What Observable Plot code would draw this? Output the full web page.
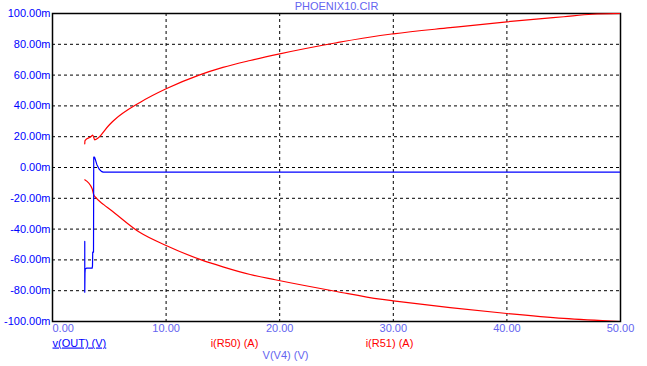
<!DOCTYPE html>
<html>
<head>
<meta charset="utf-8">
<script src="https://cdn.jsdelivr.net/npm/d3@7"></script>
<script src="https://cdn.jsdelivr.net/npm/@observablehq/plot@0.6"></script>
<style>
  html, body { margin: 0; padding: 0; background: #ffffff; }
</style>
</head>
<body>
<div id="chart"></div>
<script>
// ---- data (values in milli-units) ----
const chartTitle = "PHOENIX10.CIR";
const xTicks = [0, 10, 20, 30, 40, 50];
const yTicks = [-100, -80, -60, -40, -20, 0, 20, 40, 60, 80, 100];
const xGrid = [10, 20, 30, 40];
const yGrid = [-80, -60, -40, -20, 0, 20, 40, 60, 80];

// v(OUT) (V)
const vOutX = [2.84, 2.84, 2.86, 2.88, 2.99, 3.49, 3.52, 3.54, 3.61, 3.63, 3.70, 3.78, 3.90, 4.10, 4.30, 4.46, 50];
const vOutY = [-48, -81, -68.6, -66, -65.4, -65.4, -64, -55, -55, 6.7, 6.7, 5, 2, -1, -2.5, -3.0, -3.0];

// i(R50) (A)  (upper red)
const iR50X = [2.84, 2.86, 3.40, 3.54, 3.72, 4.95, 5.39, 7.74, 10, 12.9, 15, 17.4, 20, 25, 28.85, 30, 35, 40, 45, 47.5, 50];
const iR50Y = [15.4, 17.5, 20.1, 21.0, 18.0, 27.3, 30.5, 42.4, 51.1, 60, 65, 69.5, 73.8, 81, 85.7, 86.8, 90.8, 94.6, 97.9, 99.5, 100];

// i(R51) (A)  (lower red)
const iR51X = [2.84, 3.49, 3.63, 3.78, 4.51, 5.1, 7.74, 10, 13.1, 15, 17.4, 19.6, 25, 28.85, 30, 35, 40, 45, 50];
const iR51Y = [-8.0, -13.8, -17.7, -19.3, -24.1, -27.4, -42.4, -50.6, -60, -64.5, -69.5, -72.9, -80.5, -85.5, -86.6, -91, -94.8, -98, -100];

const legendLabels = ["v(OUT) (V)", "i(R50) (A)", "i(R51) (A)"];
const xAxisLabel = "V(V4) (V)";

// ---- build tables ----
const vOut = vOutX.map((x, i) => ({x, y: vOutY[i]}));
const iR50 = iR50X.map((x, i) => ({x, y: iR50Y[i]}));
const iR51 = iR51X.map((x, i) => ({x, y: iR51Y[i]}));

const lightBlue = "#6464f0";
const blue = "#0000ff";
const red = "#ff0000";

const chart = Plot.plot({
  width: 647,
  height: 366,
  marginLeft: 52,
  marginRight: 27,
  marginTop: 13,
  marginBottom: 45,
  style: {background: "#ffffff", fontFamily: "'Liberation Sans', Arial, sans-serif", fontSize: "11px"},
  x: {domain: [0, 50], axis: null},
  y: {domain: [-100, 100], axis: null},
  marks: [
    Plot.ruleX(xGrid, {stroke: "#000", strokeDasharray: "3,3", strokeWidth: 1}),
    Plot.ruleY(yGrid, {stroke: "#000", strokeDasharray: "3,3", strokeWidth: 1}),
    Plot.frame({stroke: "#000", strokeWidth: 1.5}),
    Plot.line(iR50, {x: "x", y: "y", stroke: red, strokeWidth: 1.2, curve: "monotone-x", clip: true}),
    Plot.line(iR51, {x: "x", y: "y", stroke: red, strokeWidth: 1.2, curve: "monotone-x", clip: true}),
    Plot.line(vOut, {x: "x", y: "y", stroke: blue, strokeWidth: 1.2, clip: true}),
    // y tick labels
    Plot.text(yTicks, {y: d => d, text: d => d.toFixed(2) + "m", frameAnchor: "left", dx: -2, textAnchor: "end", fill: blue}),
    // x tick labels
    Plot.text(xTicks.filter(d => d === 0), {x: d => d, text: d => d.toFixed(2), frameAnchor: "bottom", dy: 7, lineAnchor: "middle", textAnchor: "start", fill: lightBlue}),
    Plot.text(xTicks.filter(d => d !== 0), {x: d => d, text: d => d.toFixed(2), frameAnchor: "bottom", dy: 7, lineAnchor: "middle", textAnchor: "middle", fill: lightBlue}),
    // title
    Plot.text([chartTitle], {frameAnchor: "top", dy: -7, lineAnchor: "middle", fill: lightBlue}),
    // legend
    Plot.text([legendLabels[0]], {frameAnchor: "bottom-left", dx: 0, dy: 21.5, lineAnchor: "middle", textAnchor: "start", fill: blue}),
    Plot.text([legendLabels[1]], {frameAnchor: "bottom-left", dx: 182, dy: 21.5, lineAnchor: "middle", textAnchor: "middle", fill: red}),
    Plot.text([legendLabels[2]], {frameAnchor: "bottom-left", dx: 337, dy: 21.5, lineAnchor: "middle", textAnchor: "middle", fill: red}),
    Plot.text([xAxisLabel], {frameAnchor: "bottom-left", dx: 233, dy: 34, lineAnchor: "middle", textAnchor: "middle", fill: lightBlue})
  ]
});

d3.select(chart).selectAll("text")
  .filter(function() { return this.textContent === legendLabels[0]; })
  .style("text-decoration", "underline");

document.getElementById("chart").appendChild(chart);
</script>
</body>
</html>
